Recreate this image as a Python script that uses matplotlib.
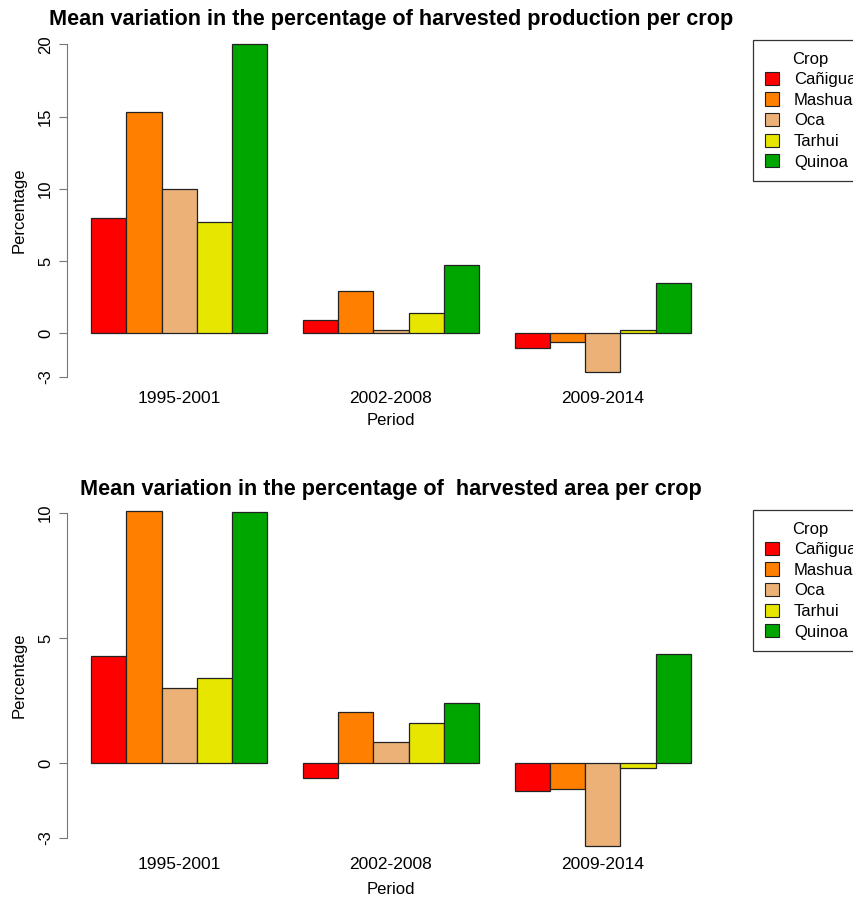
import matplotlib
matplotlib.use("Agg")
import matplotlib.pyplot as plt
from matplotlib.patches import Patch
import numpy as np

plt.rcParams['font.family'] = ['Liberation Sans', 'DejaVu Sans']

periods = ["1995-2001", "2002-2008", "2009-2014"]
crops = ["Cañigua", "Mashua", "Oca", "Tarhui", "Quinoa"]
colors = ["#FF0000", "#FF8000", "#EBB176", "#E6E600", "#00A600"]

production = {
    "Cañigua": [8.0, 0.9, -1.0],
    "Mashua": [15.3, 2.9, -0.6],
    "Oca": [10.0, 0.2, -2.65],
    "Tarhui": [7.7, 1.4, 0.25],
    "Quinoa": [20.0, 4.7, 3.5],
}
area = {
    "Cañigua": [4.3, -0.6, -1.1],
    "Mashua": [10.1, 2.05, -1.05],
    "Oca": [3.0, 0.83, -3.3],
    "Tarhui": [3.4, 1.6, -0.2],
    "Quinoa": [10.05, 2.4, 4.35],
}

titles = ["Mean variation in the percentage of harvested production per crop",
          "Mean variation in the percentage of  harvested area per crop"]
yticks_list = [[-3, 0, 5, 10, 15, 20], [-3, 0, 5, 10]]

W, H = 854, 901
fig = plt.figure(figsize=(W / 100, H / 100), dpi=100)

axes_px = [(67, 715, 31, 390), (67, 715, 500, 851)]
legend_top = [40, 510]
xtick_pads = [1.0, 4.0]
xlabel_pads = [5.0, 7.5]
title_pads = [4.3, 3.6]

for k, (data, title, yt) in enumerate(zip([production, area], titles, yticks_list)):
    x0, x1, yt_px, yb_px = axes_px[k]
    ax = fig.add_axes([x0 / W, 1 - yb_px / H, (x1 - x0) / W, (yb_px - yt_px) / H])
    for i, c in enumerate(crops):
        xs = [1 + 6 * g + i for g in range(len(periods))]
        ax.bar(xs, data[c], width=1, align='edge', color=colors[i],
               edgecolor='#222222', linewidth=0.9)
    ymin, ymax = yt[0], yt[-1]
    ext = 0.04 * (ymax - ymin)
    ax.set_ylim(ymin - ext, ymax + ext)
    ax.set_xlim(1 - 0.04 * 17, 18 + 0.04 * 17)
    for s in ['top', 'right', 'bottom']:
        ax.spines[s].set_visible(False)
    ax.spines['left'].set_bounds(ymin, ymax)
    ax.spines['left'].set_color('#777777')
    ax.set_yticks(yt)
    ax.set_yticklabels([str(v) for v in yt], rotation=90, va='center', fontsize=12)
    ax.tick_params(axis='y', color='#777777', length=6, pad=4)
    ax.set_xticks([3.5, 9.5, 15.5])
    ax.set_xticklabels(periods, fontsize=12.5)
    ax.tick_params(axis='x', length=0, pad=xtick_pads[k])
    ax.set_xlabel("Period", fontsize=12, labelpad=xlabel_pads[k])
    ax.set_ylabel("Percentage", fontsize=12, labelpad=8)
    ax.set_title(title, fontsize=15.6, fontweight='bold', pad=title_pads[k])

    handles = [Patch(facecolor=colors[i], edgecolor='#222222', linewidth=0.8) for i in range(5)]
    leg = fig.legend(handles, crops, title="Crop", loc='upper left',
                     bbox_to_anchor=(753 / W, 1 - legend_top[k] / H),
                     fontsize=12, title_fontsize=12, frameon=True, fancybox=False,
                     edgecolor='black', handlelength=0.85, handleheight=0.85,
                     handletextpad=0.9, labelspacing=0.31, borderpad=0.7,
                     borderaxespad=0)
    leg.get_frame().set_linewidth(0.9)

fig.savefig("out.png", dpi=100)
